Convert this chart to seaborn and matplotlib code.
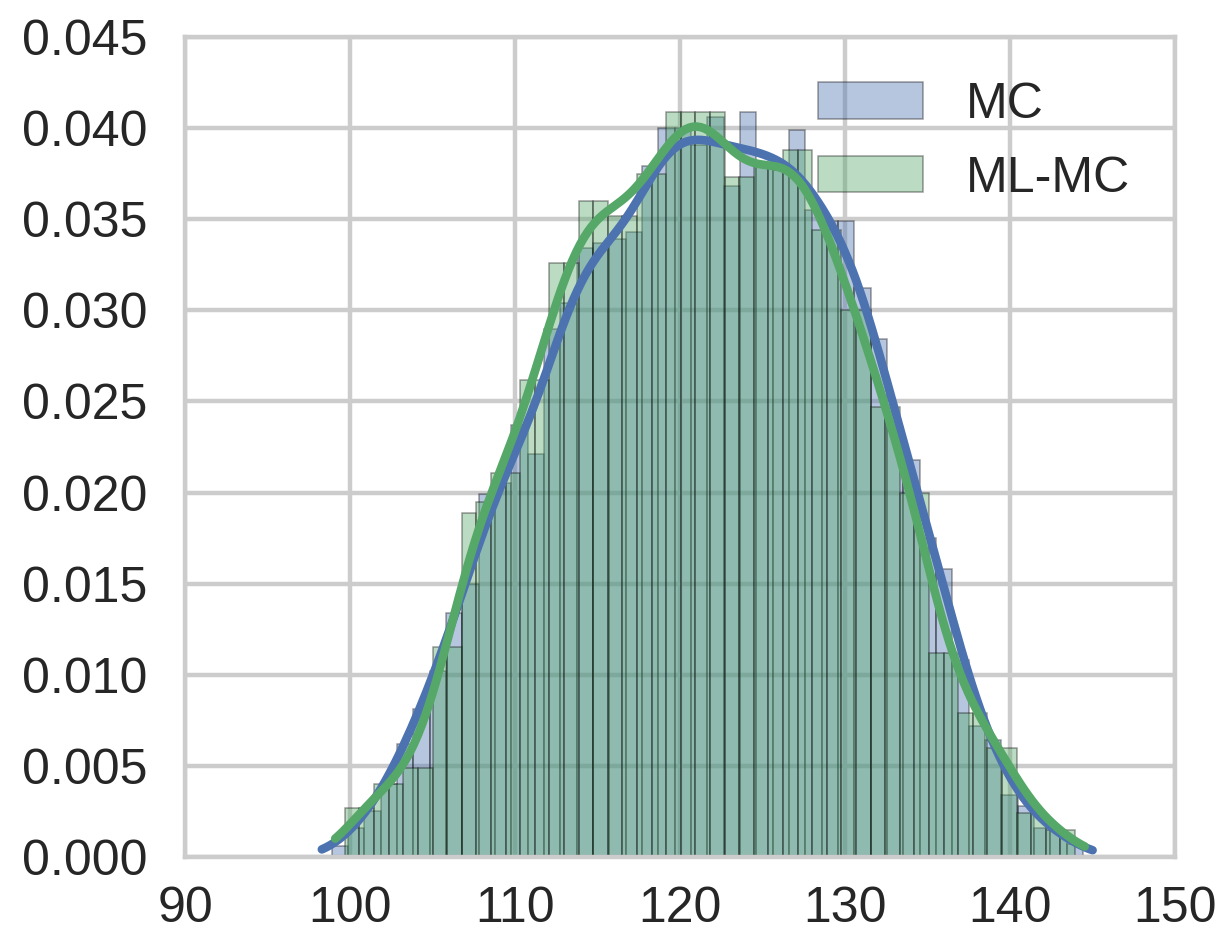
import numpy as np
import pandas as pd
import matplotlib
matplotlib.use("Agg")
import matplotlib.pyplot as plt
import seaborn as sns
from matplotlib.patches import Patch

# ---------------- data ----------------
series_labels = ["MC", "ML-MC"]

mc_bin_start = 98.88
mc_bin_width = 0.99
mc_density = [
    0.0006, 0.0016, 0.0025, 0.0040, 0.0062, 0.0081, 0.0102, 0.0134,
    0.0150, 0.0199, 0.0205, 0.0237, 0.0221, 0.0290, 0.0304, 0.0334,
    0.0337, 0.0339, 0.0343, 0.0379, 0.0400, 0.0400, 0.0391, 0.0406,
    0.0368, 0.0409, 0.0379, 0.0377, 0.0399, 0.0355, 0.0349, 0.0349,
    0.0312, 0.0284, 0.0236, 0.0218, 0.0175, 0.0158, 0.0108, 0.0072,
    0.0064, 0.0034, 0.0028, 0.0016, 0.0014, 0.0007,
]

mlmc_bin_start = 99.69
mlmc_bin_width = 0.885
mlmc_density = [
    0.0027, 0.0027, 0.0040, 0.0040, 0.0049, 0.0049, 0.0115, 0.0115,
    0.0189, 0.0195, 0.0211, 0.0211, 0.0262, 0.0262, 0.0326, 0.0326,
    0.0360, 0.0360, 0.0352, 0.0352, 0.0375, 0.0375, 0.0409, 0.0409,
    0.0409, 0.0409, 0.0373, 0.0373, 0.0379, 0.0379, 0.0388, 0.0388,
    0.0344, 0.0344, 0.0300, 0.0300, 0.0247, 0.0247, 0.0200, 0.0200,
    0.0112, 0.0112, 0.0079, 0.0079, 0.0060, 0.0060, 0.0024, 0.0024,
    0.0015, 0.0015,
]

x_ticks = [90, 100, 110, 120, 130, 140, 150]
y_ticks = [0.000, 0.005, 0.010, 0.015, 0.020, 0.025, 0.030, 0.035, 0.040, 0.045]

# ---------------- style ----------------
sns.set_theme(style="whitegrid", context="poster")
plt.rcParams["font.family"] = ["Liberation Sans", "DejaVu Sans"]
plt.rcParams["grid.linewidth"] = 3.2
plt.rcParams["axes.linewidth"] = 3.2
plt.rcParams["grid.color"] = "#cccccc"
plt.rcParams["axes.edgecolor"] = "#cccccc"

pal = sns.color_palette("deep")
c_mc, c_mlmc = pal[0], pal[2]
edge_rgba = (0.0, 0.0, 0.0, 0.38)

fig = plt.figure(figsize=(12.22, 9.33), dpi=100)
ax = fig.add_axes([185 / 1222, 1 - 857 / 933, 990 / 1222, 820 / 933])


def edges_of(start, width, n):
    return [float(start + width * i) for i in range(n + 1)]


series = [
    (mc_bin_start, mc_bin_width, mc_density, c_mc),
    (mlmc_bin_start, mlmc_bin_width, mlmc_density, c_mlmc),
]

for start, width, dens, col in series:
    edges = edges_of(start, width, len(dens))
    centers = [0.5 * (a + b) for a, b in zip(edges[:-1], edges[1:])]
    df = pd.DataFrame({"value": centers, "dens": dens})
    sns.histplot(data=df, x="value", weights="dens", bins=edges, stat="count",
                 facecolor=(*col, 0.4), edgecolor=edge_rgba, linewidth=1.1,
                 ax=ax)
    sns.kdeplot(data=df, x="value", weights="dens", bw_adjust=0.35, cut=0.5,
                color=col, linewidth=6.2, ax=ax, solid_capstyle="round")

ax.set_xlim(x_ticks[0], x_ticks[-1])
ax.set_ylim(y_ticks[0], y_ticks[-1])
ax.set_xticks(x_ticks)
ax.set_xticklabels([str(v) for v in x_ticks])
ax.set_yticks(y_ticks)
ax.set_yticklabels([f"{v:.3f}" for v in y_ticks])
ax.tick_params(axis="both", labelsize=36, length=0, colors="#262626")
ax.tick_params(axis="y", pad=27)
ax.tick_params(axis="x", pad=21)
ax.set_xlabel("")
ax.set_ylabel("")
for s in ax.spines.values():
    s.set_visible(True)
    s.set_color("#cccccc")
    s.set_linewidth(3.2)

handles = [Patch(facecolor=(*c, 0.4), edgecolor=edge_rgba, linewidth=1.1)
           for c in (c_mc, c_mlmc)]
ax.legend(handles, series_labels, loc="upper right", frameon=False,
          fontsize=36, handlelength=2.1, handleheight=0.75,
          handletextpad=0.85, labelspacing=0.55)

fig.savefig("out.png", dpi=100)
